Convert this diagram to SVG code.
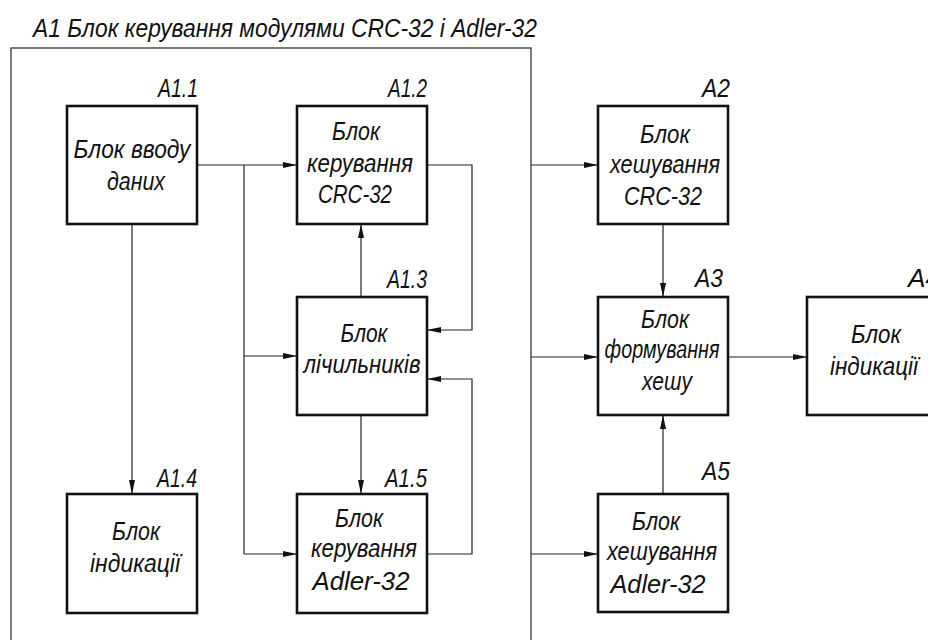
<svg xmlns="http://www.w3.org/2000/svg" width="928" height="640" viewBox="0 0 928 640">
<defs>
<style>
.box{fill:#fff;stroke:#111;stroke-width:2.6}
.frame{fill:none;stroke:#444;stroke-width:1.4}
.ln{fill:none;stroke:#222;stroke-width:1.2}
text{font-family:"Liberation Sans","DejaVu Sans",sans-serif;font-style:italic;font-size:25px;fill:#111}
.c{text-anchor:middle}
.lbl{text-anchor:end}
</style>
<marker id="ah" viewBox="0 0 14 6" refX="14" refY="3" markerWidth="14" markerHeight="6" markerUnits="userSpaceOnUse" orient="auto">
<path d="M0,0 L14,3 L0,6 z" fill="#111"/>
</marker>
</defs>
<rect width="928" height="640" fill="#fff"/>
<text x="33" y="37" textLength="504" lengthAdjust="spacingAndGlyphs">A1 Блок керування модулями CRC-32 і Adler-32</text>
<rect class="frame" x="11" y="48" width="520" height="620"/>

<g id="connectors">
<path class="ln" d="M197,165 H297" marker-end="url(#ah)"/>
<path class="ln" d="M244,165 V554"/>
<path class="ln" d="M244,356 H297" marker-end="url(#ah)"/>
<path class="ln" d="M244,554 H297" marker-end="url(#ah)"/>
<path class="ln" d="M132,224 V494" marker-end="url(#ah)"/>
<path class="ln" d="M427,165 H472 V330 H427" marker-end="url(#ah)"/>
<path class="ln" d="M361,297 V224" marker-end="url(#ah)"/>
<path class="ln" d="M361,415 V494" marker-end="url(#ah)"/>
<path class="ln" d="M427,554 H472 V379 H427" marker-end="url(#ah)"/>
<path class="ln" d="M531,165 H598" marker-end="url(#ah)"/>
<path class="ln" d="M531,357 H598" marker-end="url(#ah)"/>
<path class="ln" d="M531,554 H598" marker-end="url(#ah)"/>
<path class="ln" d="M663,224 V297" marker-end="url(#ah)"/>
<path class="ln" d="M663,494 V415" marker-end="url(#ah)"/>
<path class="ln" d="M728,357 H807" marker-end="url(#ah)"/>
</g>

<g id="A1.1">
<rect class="box" x="67" y="106" width="130" height="118"/>
<text class="lbl" x="198" y="97" textLength="40" lengthAdjust="spacingAndGlyphs">A1.1</text>
<text class="c" x="132" y="158" textLength="117" lengthAdjust="spacingAndGlyphs">Блок вводу</text>
<text class="c" x="136" y="190" textLength="58" lengthAdjust="spacingAndGlyphs">даних</text>
</g>

<g id="A1.2">
<rect class="box" x="297" y="106" width="130" height="118"/>
<text class="lbl" x="427" y="97" textLength="39" lengthAdjust="spacingAndGlyphs">A1.2</text>
<text class="c" x="356" y="140" textLength="48" lengthAdjust="spacingAndGlyphs">Блок</text>
<text class="c" x="360" y="172" textLength="106" lengthAdjust="spacingAndGlyphs">керування</text>
<text class="c" x="355" y="203" textLength="74" lengthAdjust="spacingAndGlyphs">CRC-32</text>
</g>

<g id="A1.3">
<rect class="box" x="297" y="297" width="130" height="118"/>
<text class="lbl" x="427" y="288" textLength="40" lengthAdjust="spacingAndGlyphs">A1.3</text>
<text class="c" x="364" y="342" textLength="47" lengthAdjust="spacingAndGlyphs">Блок</text>
<text class="c" x="362" y="373" textLength="117" lengthAdjust="spacingAndGlyphs">лічильників</text>
</g>

<g id="A1.4">
<rect class="box" x="67" y="494" width="130" height="119"/>
<text class="lbl" x="197" y="487" textLength="40" lengthAdjust="spacingAndGlyphs">A1.4</text>
<text class="c" x="136" y="540" textLength="48" lengthAdjust="spacingAndGlyphs">Блок</text>
<text class="c" x="135" y="572" textLength="90" lengthAdjust="spacingAndGlyphs">індикації</text>
</g>

<g id="A1.5">
<rect class="box" x="297" y="494" width="130" height="119"/>
<text class="lbl" x="427" y="487" textLength="42" lengthAdjust="spacingAndGlyphs">A1.5</text>
<text class="c" x="359" y="527" textLength="48" lengthAdjust="spacingAndGlyphs">Блок</text>
<text class="c" x="364" y="557" textLength="106" lengthAdjust="spacingAndGlyphs">керування</text>
<text class="c" x="361" y="590" textLength="97" lengthAdjust="spacingAndGlyphs">Adler-32</text>
</g>

<g id="A2">
<rect class="box" x="598" y="106" width="130" height="118"/>
<text class="lbl" x="730" y="97" textLength="28" lengthAdjust="spacingAndGlyphs">A2</text>
<text class="c" x="665" y="143" textLength="50" lengthAdjust="spacingAndGlyphs">Блок</text>
<text class="c" x="665" y="173" textLength="110" lengthAdjust="spacingAndGlyphs">хешування</text>
<text class="c" x="663" y="205" textLength="78" lengthAdjust="spacingAndGlyphs">CRC-32</text>
</g>

<g id="A3">
<rect class="box" x="598" y="297" width="130" height="118"/>
<text class="lbl" x="723" y="287" textLength="28" lengthAdjust="spacingAndGlyphs">A3</text>
<text class="c" x="665" y="328" textLength="48" lengthAdjust="spacingAndGlyphs">Блок</text>
<text class="c" x="662" y="358" textLength="115" lengthAdjust="spacingAndGlyphs">формування</text>
<text class="c" x="667" y="390" textLength="50" lengthAdjust="spacingAndGlyphs">хешу</text>
</g>

<g id="A4">
<rect class="box" x="807" y="297" width="130" height="118"/>
<text class="lbl" x="940" y="287" textLength="32" lengthAdjust="spacingAndGlyphs">A4</text>
<text class="c" x="876" y="343" textLength="50" lengthAdjust="spacingAndGlyphs">Блок</text>
<text class="c" x="874" y="375" textLength="88" lengthAdjust="spacingAndGlyphs">індикації</text>
</g>

<g id="A5">
<rect class="box" x="598" y="494" width="130" height="118"/>
<text class="lbl" x="730" y="480" textLength="28" lengthAdjust="spacingAndGlyphs">A5</text>
<text class="c" x="656" y="530" textLength="48" lengthAdjust="spacingAndGlyphs">Блок</text>
<text class="c" x="662" y="560" textLength="110" lengthAdjust="spacingAndGlyphs">хешування</text>
<text class="c" x="658" y="593" textLength="95" lengthAdjust="spacingAndGlyphs">Adler-32</text>
</g>
</svg>
